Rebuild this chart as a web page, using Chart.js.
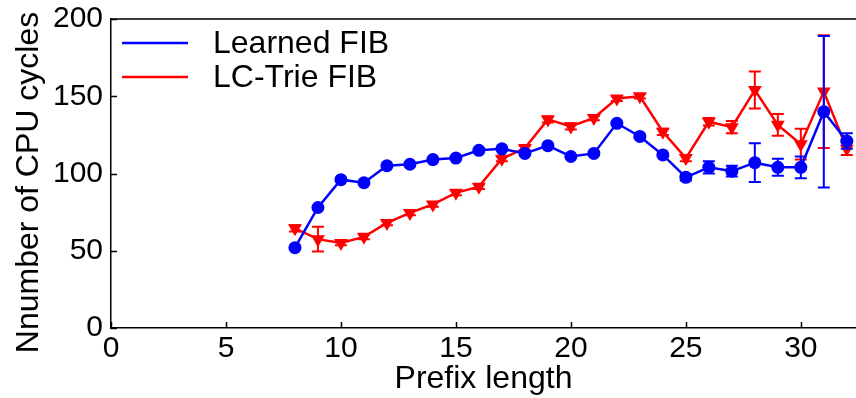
<!DOCTYPE html>
<html>
<head>
<meta charset="utf-8">
<script src="https://cdn.jsdelivr.net/npm/chart.js@4/dist/chart.umd.min.js"></script>
<style>
  html, body { margin: 0; padding: 0; background: #fff; }
  #wrap { width: 856px; height: 398px; }
</style>
</head>
<body>
<div id="wrap"><canvas id="cyclesChart" width="856" height="398"></canvas></div>
<script>
// prefix lengths and cycle counts
const prefixLen = [8, 9, 10, 11, 12, 13, 14, 15, 16, 17, 18, 19, 20, 21, 22, 23, 24, 25, 26, 27, 28, 29, 30, 31, 32];
const learnedFib = [52, 78, 96, 94, 105, 106, 109, 110, 115, 116, 113, 118, 111, 113, 132.5, 124, 112, 97.5, 104, 101.5, 107, 104, 104, 140, 121];
const learnedErr = [1, 1, 1, 1, 1, 1, 1, 1, 1, 1, 1, 1, 1, 1, 1, 1, 1, 2, 4, 3.5, 12.5, 5.5, 7, 49, 5];
const lcTrieFib = [64.5, 57.5, 55, 59, 68, 74.5, 80, 87.5, 91.5, 109.5, 116.5, 135, 130.5, 136, 148.5, 150, 127, 110, 133.5, 130, 154, 131.5, 119, 153, 116];
const lcTrieErr = [2, 8, 1.5, 1.5, 1.5, 1.5, 1.5, 1.5, 1.5, 1.5, 1.5, 2, 2, 1.5, 1.5, 1.5, 2, 2, 2.5, 4, 12, 7, 10, 36.5, 4];
const yTicks = [0, 50, 100, 150, 200];
const xTicks = [0, 5, 10, 15, 20, 25, 30];
const yTitle = 'Nnumber of CPU cycles';

const FONT = "'Liberation Sans', Arial, sans-serif";

function toPoints(xs, ys) {
  return xs.map((x, i) => ({ x: x, y: ys[i] }));
}

function noPad(s) {
  s.paddingTop = 0; s.paddingBottom = 0;
  s.paddingLeft = 0; s.paddingRight = 0;
}

// error bars with caps, drawn right after each dataset
const errorBars = {
  id: 'errorBars',
  afterDatasetDraw(chart, args) {
    const ds = chart.data.datasets[args.index];
    if (!ds.errors) return;
    const { ctx, scales: { x, y } } = chart;
    ctx.save();
    ctx.strokeStyle = ds.borderColor;
    ctx.lineWidth = 2;
    ds.data.forEach((p, i) => {
      const px = x.getPixelForValue(p.x);
      const top = y.getPixelForValue(p.y + ds.errors[i]);
      const bot = y.getPixelForValue(p.y - ds.errors[i]);
      ctx.beginPath();
      ctx.moveTo(px, top); ctx.lineTo(px, bot);
      ctx.moveTo(px - 6, top); ctx.lineTo(px + 6, top);
      ctx.moveTo(px - 6, bot); ctx.lineTo(px + 6, bot);
      ctx.stroke();
    });
    ctx.restore();
  }
};

// matplotlib style frame: top spine, inward ticks, y title, legend
const frame = {
  id: 'frame',
  afterDraw(chart) {
    const { ctx, chartArea: a, scales: { x, y } } = chart;
    ctx.save();
    ctx.strokeStyle = '#000';
    ctx.lineWidth = 1.5;
    ctx.beginPath();
    ctx.moveTo(a.left, a.top); ctx.lineTo(a.right, a.top);
    x.ticks.forEach(t => {
      const px = Math.round(x.getPixelForValue(t.value)) + 0.5;
      ctx.moveTo(px, a.bottom); ctx.lineTo(px, a.bottom - 6);
    });
    y.ticks.forEach(t => {
      const py = Math.round(y.getPixelForValue(t.value)) + 0.5;
      ctx.moveTo(a.left, py); ctx.lineTo(a.left + 6, py);
    });
    ctx.stroke();

    ctx.fillStyle = '#000';
    ctx.font = '32px ' + FONT;

    // y axis title (sits a bit below the axis centre in the original)
    ctx.save();
    ctx.translate(29, (a.top + a.bottom) / 2 + 9);
    ctx.rotate(-Math.PI / 2);
    ctx.textAlign = 'center';
    ctx.textBaseline = 'middle';
    ctx.fillText(yTitle, 0, 0);
    ctx.restore();

    // legend inside the axes, upper left
    ctx.textBaseline = 'middle';
    chart.data.datasets.forEach((ds, i) => {
      const ly = a.top + 24 + i * 34;
      ctx.strokeStyle = ds.borderColor;
      ctx.lineWidth = 2.5;
      ctx.beginPath();
      ctx.moveTo(a.left + 11, ly); ctx.lineTo(a.left + 77, ly);
      ctx.stroke();
      ctx.fillText(ds.label, a.left + 102, ly + 1);
    });
    ctx.restore();
  }
};

new Chart(document.getElementById('cyclesChart'), {
  type: 'scatter',
  data: {
    datasets: [
      {
        label: 'Learned FIB',
        data: toPoints(prefixLen, learnedFib),
        errors: learnedErr,
        showLine: true,
        borderColor: '#0000ff',
        backgroundColor: '#0000ff',
        borderWidth: 2.5,
        pointStyle: 'circle',
        pointRadius: 6.5,
        pointBorderWidth: 0
      },
      {
        label: 'LC-Trie FIB',
        data: toPoints(prefixLen, lcTrieFib),
        errors: lcTrieErr,
        showLine: true,
        borderColor: '#ff0000',
        backgroundColor: '#ff0000',
        borderWidth: 2.5,
        pointStyle: 'triangle',
        rotation: 180,
        pointRadius: 8,
        pointBorderWidth: 0
      }
    ]
  },
  options: {
    responsive: false,
    animation: false,
    layout: { autoPadding: false, padding: { top: 19, right: 0, left: 0, bottom: 0 } },
    plugins: {
      legend: { display: false },
      tooltip: { enabled: false }
    },
    scales: {
      x: {
        type: 'linear',
        min: 0,
        max: 32.4,
        afterBuildTicks: s => { s.ticks = xTicks.map(v => ({ value: v })); },
        afterFit: s => { s.height = 70; noPad(s); },
        grid: { display: false, drawTicks: false },
        border: { display: true, color: '#000', width: 1.5 },
        ticks: { color: '#000', padding: 3, font: { family: FONT, size: 30 }, maxRotation: 0 },
        title: { display: true, text: 'Prefix length', color: '#000', padding: { top: 0, bottom: 0 }, font: { family: FONT, size: 32 } }
      },
      y: {
        min: 0,
        max: 200,
        afterBuildTicks: s => { s.ticks = yTicks.map(v => ({ value: v })); },
        afterFit: s => { s.width = 111; noPad(s); },
        grid: { display: false, drawTicks: false },
        border: { display: true, color: '#000', width: 1.5 },
        ticks: { color: '#000', padding: 8, font: { family: FONT, size: 30 } }
      }
    }
  },
  plugins: [errorBars, frame]
});
</script>
</body>
</html>
